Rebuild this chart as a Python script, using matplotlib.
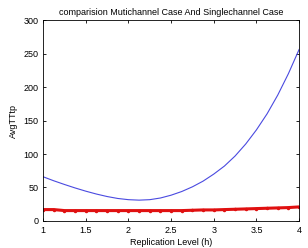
import matplotlib
matplotlib.use("Agg")
import matplotlib.pyplot as plt

# replication levels and read-off values
h = [1.0, 1.125, 1.25, 1.375, 1.5, 1.625, 1.75, 1.875, 2.0, 2.125, 2.25, 2.375, 2.5,
     2.625, 2.75, 2.875, 3.0, 3.125, 3.25, 3.375, 3.5, 3.625, 3.75, 3.875, 4.0]
multi = [66, 60, 54.5, 49.3, 44.5, 40.2, 36.5, 33.6, 31.8, 31.1, 31.8, 34.3, 38.5,
         44, 51, 59.5, 70, 82, 97, 115, 136, 160, 188, 220, 256]
single = [17, 17, 15.5, 15.5, 15.5, 15.5, 15.5, 15.5, 15.5, 15.5, 15.5, 15.5, 15.5,
          15.5, 16, 16.5, 16.5, 17, 17.5, 18, 18.5, 19, 19.5, 20, 21]

xticks = [1, 1.5, 2, 2.5, 3, 3.5, 4]
xticklabels = ['1', '1.5', '2', '2.5', '3', '3.5', '4']
yticks = [0, 50, 100, 150, 200, 250, 300]

plt.rcParams['font.family'] = ['Liberation Sans', 'DejaVu Sans']
fig = plt.figure(figsize=(3.08, 2.48), dpi=100)
ax = fig.add_axes([0.14, 0.109, 0.831, 0.81])

ax.plot(h, multi, color='#4a4ae0', lw=0.8)
ax.plot(h, single, color='#e01010', lw=2.2, marker='.', markersize=3)

ax.set_xlim(1, 4)
ax.set_ylim(0, 300)
ax.set_xticks(xticks)
ax.set_xticklabels(xticklabels)
ax.set_yticks(yticks)
ax.tick_params(direction='in', top=True, right=True, labelsize=6.5, length=2.5, width=0.6)
for s in ax.spines.values():
    s.set_linewidth(0.6)
ax.set_xlabel('Replication Level (h)', fontsize=6.5, labelpad=2)
ax.set_ylabel('AvgTTtp', fontsize=6.5, labelpad=4)
ax.set_title('comparision Mutichannel Case And Singlechannel Case', fontsize=6.5, pad=4)

fig.savefig('out.png', dpi=100)
